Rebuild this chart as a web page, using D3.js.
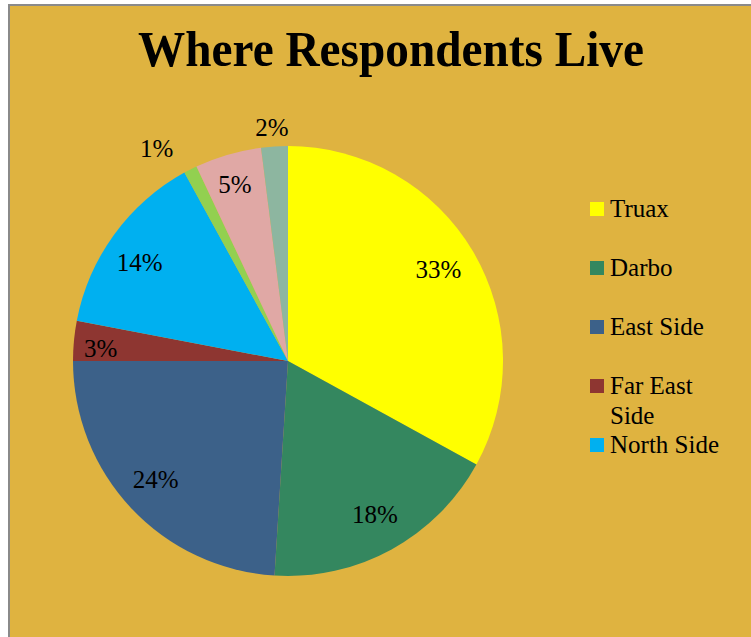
<!DOCTYPE html>
<html>
<head>
<meta charset="utf-8">
<script src="https://cdn.jsdelivr.net/npm/d3@7"></script>
<style>
  html, body { margin: 0; padding: 0; background: #ffffff; }
  svg { display: block; }
</style>
</head>
<body>
<div id="chart"></div>
<script>
// Share of survey respondents by neighbourhood
const categories = ["Truax", "Darbo", "East Side", "Far East Side", "North Side", "Other A", "Other B", "Other C"];
const shares = [33, 18, 24, 3, 14, 1, 5, 2];
const sliceColors = ["#FFFF00", "#34875F", "#3C6189", "#8E3631", "#00B0F0", "#92D050", "#E0A8A5", "#8DB6A0"];
const legendCategories = ["Truax", "Darbo", "East Side", "Far East Side", "North Side"];
const titleText = "Where Respondents Live";

const FONT = "'Liberation Serif', 'Times New Roman', serif";
const W = 751, H = 637;
const cx = 288, cy = 361, R = 215;

const svg = d3.select("#chart").append("svg")
  .attr("width", W).attr("height", H)
  .attr("font-family", FONT);

// Frame and panel background
svg.append("rect").attr("x", 8).attr("y", 4).attr("width", W - 8).attr("height", H - 4).attr("fill", "#8A8A8A");
svg.append("rect").attr("x", 10).attr("y", 6).attr("width", W - 10).attr("height", H - 6).attr("fill", "#DFB340");

// Title
svg.append("text")
  .attr("x", 391).attr("y", 66)
  .attr("text-anchor", "middle")
  .attr("font-family", FONT)
  .attr("font-size", 51).attr("font-weight", "bold")
  .attr("textLength", 506).attr("lengthAdjust", "spacingAndGlyphs")
  .attr("fill", "#000")
  .text(titleText);

const color = d3.scaleOrdinal().domain(categories).range(sliceColors);

const pie = d3.pie().value(d => d.v).sort(null);
const data = categories.map((c, i) => ({ c, v: shares[i] }));
const arcs = pie(data);
const total = d3.sum(shares);

const arc = d3.arc().innerRadius(0).outerRadius(R);
const g = svg.append("g").attr("transform", `translate(${cx},${cy})`);

g.selectAll("path.slice").data(arcs).enter().append("path")
  .attr("class", "slice")
  .attr("d", arc)
  .attr("fill", d => color(d.data.c));

// Percentage labels: inside for larger slices, outside for the slimmest ones
const insideArc = d3.arc().innerRadius(176 * 2 - R).outerRadius(R);   // centroid radius 176
const outsideArc = d3.arc().innerRadius(2 * 241 - R).outerRadius(R);  // centroid radius 241
const nudge = {
  "Truax": [-1, -2], "Darbo": [2, 0], "East Side": [-4, -2],
  "Far East Side": [-12, 4], "North Side": [-6, 5],
  "Other A": [-22, 2], "Other B": [-4, -7], "Other C": [-1, 7]
};

g.selectAll("text.pct").data(arcs).enter().append("text")
  .attr("class", "pct")
  .attr("text-anchor", "middle")
  .attr("dy", "0.33em")
  .attr("font-family", FONT)
  .attr("font-size", 25)
  .attr("fill", "#000")
  .attr("transform", d => {
    const small = d.data.v / total < 0.03;
    const [x, y] = (small ? outsideArc : insideArc).centroid(d);
    const n = nudge[d.data.c] || [0, 0];
    return `translate(${x + n[0]},${y + n[1]})`;
  })
  .text(d => d3.format(".0%")(d.data.v / total));

// Legend
const legend = svg.append("g").attr("transform", "translate(590,202)");
const rowStep = 59;
const rows = legend.selectAll("g.row").data(legendCategories).enter().append("g")
  .attr("class", "row")
  .attr("transform", (d, i) => `translate(0,${i * rowStep})`);

rows.append("rect")
  .attr("width", 14).attr("height", 14)
  .attr("fill", d => color(d));

rows.append("text")
  .attr("x", 20).attr("y", 15)
  .attr("font-family", FONT)
  .attr("font-size", 25)
  .attr("fill", "#000")
  .each(function(d) {
    const t = d3.select(this);
    const lines = d === "Far East Side" ? ["Far East", "Side"] : [d];
    lines.forEach((ln, k) => {
      t.append("tspan").attr("x", 20).attr("dy", k === 0 ? 0 : 30).text(ln);
    });
  });
</script>
</body>
</html>
